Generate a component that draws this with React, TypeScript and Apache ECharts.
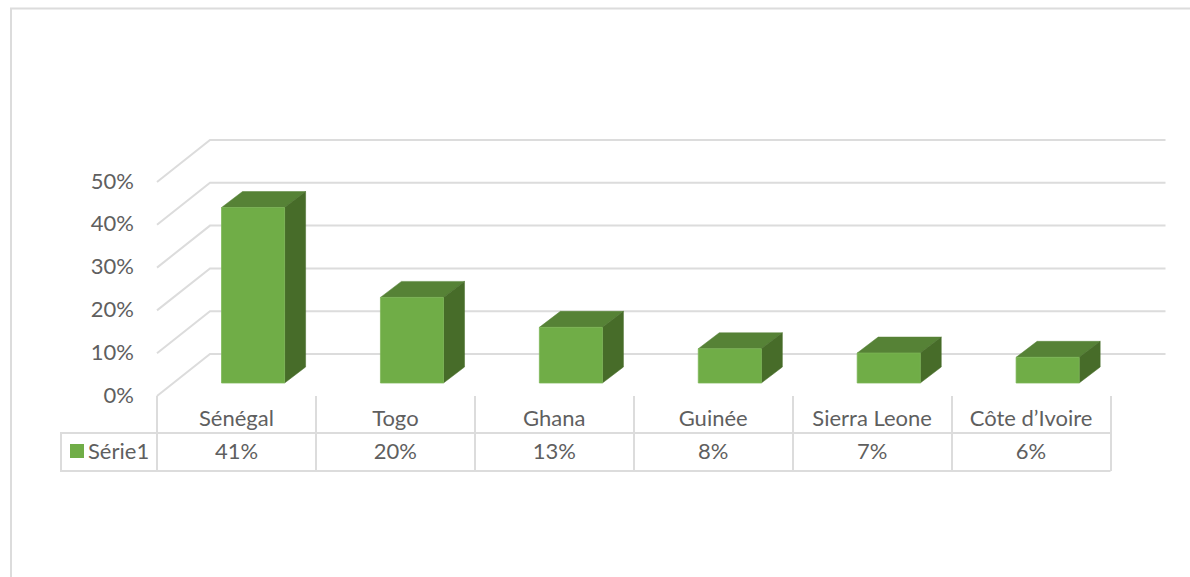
import React, { useEffect, useRef } from "react";
import * as echarts from "echarts";

const categories = ["Sénégal", "Togo", "Ghana", "Guinée", "Sierra Leone", "Côte d’Ivoire"];
const seriesName = "Série1";
const values = [41, 20, 13, 8, 7, 6];
const yTicks = [0, 10, 20, 30, 40, 50];

const FONT = "Lato";
const FONT_SIZE = 22;
const TEXT = "#5f5f5f";
const LINE = "#dcdcdc";
const LINE_W = 2;
const FRONT = "#70ad47";
const TOP = "#568236";
const SIDE = "#476c29";

// oblique projection of the floor: total depth, bar offset and bar depth
const WALL = { dx: 53, dy: -42 };
const BAR_SHIFT = { dx: 16.4, dy: -13 };
const BAR_DEPTH = { dx: 21, dy: -16 };

export default function App() {
  const ref = useRef<HTMLDivElement>(null);
  useEffect(() => {
    document.body.style.margin = "0";
    const chart = echarts.init(ref.current!, undefined, { renderer: "svg" });
    chart.setOption({
      animation: false,
      backgroundColor: "#ffffff",
      textStyle: { fontFamily: FONT },
      grid: { left: 157, top: 182, width: 953.5, height: 214, containLabel: false },
      xAxis: {
        type: "category",
        data: categories,
        boundaryGap: true,
        axisLine: { show: false },
        axisTick: { show: true, length: 75, alignWithLabel: false, interval: 0, lineStyle: { color: LINE, width: LINE_W } },
        axisLabel: { interval: 0, margin: 10, color: TEXT, fontSize: FONT_SIZE, fontFamily: FONT },
        splitLine: { show: false },
      },
      yAxis: {
        type: "value",
        min: 0,
        max: 50,
        interval: 10,
        axisLine: { show: false },
        axisTick: { show: false },
        splitLine: { show: false },
        axisLabel: { margin: 23, color: TEXT, fontSize: FONT_SIZE, fontFamily: FONT, formatter: "{value}%", verticalAlign: "bottom", lineHeight: 4 },
      },
      graphic: [
        { type: "polyline", silent: true, shape: { points: [[11, 577], [11, 8.5], [1190, 8.5]] }, style: { stroke: LINE, fill: "none", lineWidth: LINE_W } },
        { type: "polyline", silent: true, shape: { points: [[1110.5, 433], [61, 433], [61, 471], [1110.5, 471]] }, style: { stroke: LINE, fill: "none", lineWidth: LINE_W } },
        { type: "rect", silent: true, shape: { x: 70, y: 444, width: 14, height: 14 }, style: { fill: FRONT } },
        { type: "text", silent: true, x: 88, y: 450, style: { text: seriesName, fill: TEXT, fontSize: FONT_SIZE, fontFamily: FONT, align: "left", verticalAlign: "middle" } },
      ],
      series: [
        {
          type: "custom",
          name: "grid",
          silent: true,
          z: 1,
          clip: false,
          data: yTicks.map((t) => [0, t]),
          encode: { x: 0, y: 1 },
          renderItem: (params: any, api: any) => {
            const cs = params.coordSys;
            const y = api.coord([0, api.value(1)])[1];
            return {
              type: "polyline",
              shape: {
                points: [
                  [cs.x, y],
                  [cs.x + WALL.dx, y + WALL.dy],
                  [cs.x + cs.width + WALL.dx + 2, y + WALL.dy],
                ],
              },
              style: { stroke: LINE, fill: "none", lineWidth: LINE_W },
            };
          },
        },
        {
          type: "custom",
          name: seriesName,
          silent: true,
          z: 2,
          clip: false,
          data: values.map((v, i) => [i, v]),
          encode: { x: 0, y: 1 },
          renderItem: (_: any, api: any) => {
            const base = api.coord([api.value(0), 0]);
            const top = api.coord([api.value(0), api.value(1)]);
            const w = api.size([1, 0])[0] * 0.397;
            const x0 = base[0] + BAR_SHIFT.dx - w / 2 + 0.2;
            const x1 = x0 + w;
            const yb = base[1] + BAR_SHIFT.dy;
            const yt = top[1] + BAR_SHIFT.dy;
            const dx = BAR_DEPTH.dx;
            const dy = BAR_DEPTH.dy;
            return {
              type: "group",
              children: [
                { type: "polygon", shape: { points: [[x0, yt], [x1, yt], [x1 + dx, yt + dy], [x0 + dx, yt + dy]] }, style: { fill: TOP, stroke: TOP, lineWidth: 0.5 } },
                { type: "polygon", shape: { points: [[x1, yt], [x1 + dx, yt + dy], [x1 + dx, yb + dy], [x1, yb]] }, style: { fill: SIDE, stroke: SIDE, lineWidth: 0.5 } },
                { type: "rect", shape: { x: x0, y: yt, width: w, height: yb - yt }, style: { fill: FRONT, stroke: "#7cb556", lineWidth: 0.75 } },
              ],
            };
          },
        },
        {
          type: "custom",
          name: "table",
          silent: true,
          z: 3,
          clip: false,
          data: values.map((v, i) => [i, v]),
          encode: { x: 0, y: 1 },
          renderItem: (_: any, api: any) => {
            const base = api.coord([api.value(0), 0]);
            return {
              type: "text",
              x: base[0],
              y: base[1] + 54.5,
              style: { text: `${api.value(1)}%`, fill: TEXT, fontSize: FONT_SIZE, fontFamily: FONT, align: "center", verticalAlign: "middle" },
            };
          },
        },
      ],
    });
    return () => chart.dispose();
  }, []);
  return <div ref={ref} style={{ width: 1190, height: 577 }} />;
}
